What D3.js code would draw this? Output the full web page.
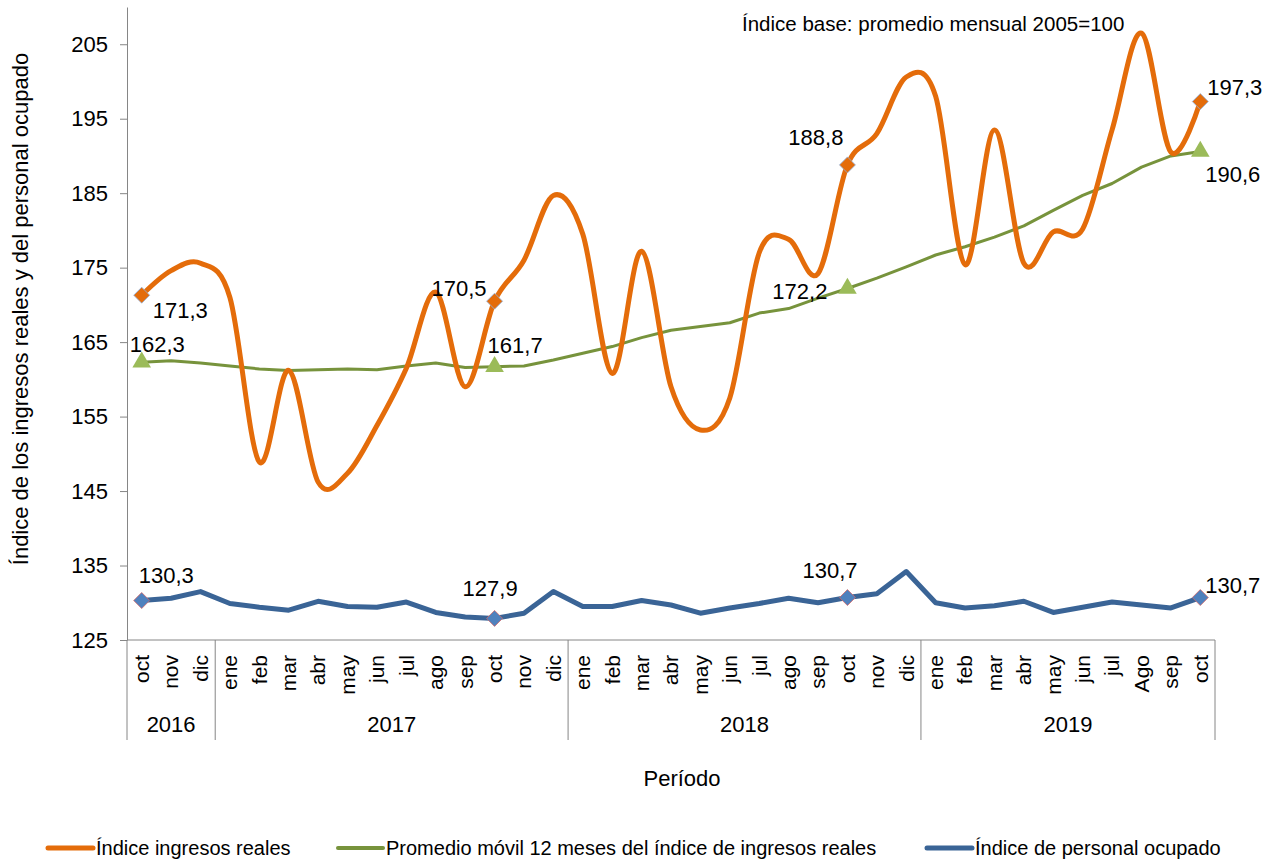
<!DOCTYPE html>
<html><head><meta charset="utf-8">
<script src="https://cdn.jsdelivr.net/npm/d3@7"></script>
<style>
body{margin:0;background:#fff;}
text{font-family:"Liberation Sans",Arial,sans-serif;fill:#000;}
</style></head>
<body>
<svg id="c" width="1270" height="860"></svg>
<script>
const months = ["oct","nov","dic","ene","feb","mar","abr","may","jun","jul","ago","sep","oct","nov","dic",
  "ene","feb","mar","abr","may","jun","jul","ago","sep","oct","nov","dic",
  "ene","feb","mar","abr","may","jun","jul","Ago","sep","oct"];
const years = ["2016","2017","2018","2019"];
const yearSpans = [3,12,12,10];
const ingresos = [171.3,174.6,175.6,171.0,148.9,161.2,146.2,147.4,153.8,161.5,171.7,159.0,170.5,
  176.0,184.7,179.5,160.8,177.2,159.0,153.2,157.5,177.0,178.8,174.2,188.8,193.0,200.6,
  198.0,175.4,193.5,175.6,179.8,180.2,193.5,206.5,190.5,197.3];
const promedio = [162.3,162.5,162.2,161.8,161.4,161.2,161.3,161.4,161.3,161.8,162.2,161.6,161.7,
  161.8,162.6,163.5,164.4,165.6,166.6,167.1,167.6,168.9,169.5,170.9,172.2,173.6,175.1,
  176.7,177.8,179.1,180.6,182.7,184.7,186.3,188.5,190.0,190.6];
const personal = [130.3,130.6,131.5,129.9,129.4,129.0,130.2,129.5,129.4,130.1,128.7,128.1,127.9,
  128.6,131.5,129.5,129.5,130.3,129.7,128.6,129.3,129.9,130.6,130.0,130.7,131.2,134.2,
  130.0,129.3,129.6,130.2,128.7,129.4,130.1,129.7,129.3,130.7];
const yTicks = [125,135,145,155,165,175,185,195,205];
const labeledIdx = [0,12,24,36];
const seriesNames = ["Índice ingresos reales","Promedio móvil 12 meses del índice de ingresos reales","Índice de personal ocupado"];
const yTitle = "Índice de los ingresos reales y del personal ocupado";
const xTitle = "Período";
const note = "Índice base: promedio mensual 2005=100";

// label offsets (layout)
const offOrange = [[11,23,"start"],[-8,-5,"end"],[-4,-20,"end"],[7,-7,"start"]];
const offGreen  = [[-12,-10,"start"],[-7,-14,"start"],[-20,11,"end"],[5,31,"start"]];
const offBlue   = [[-3,-18,"start"],[-32,-22,"start"],[-45,-20,"start"],[5,-5,"start"]];

const svg = d3.select("#c");
const L=127, R=1215, T=7, B=640;
const idx = d3.range(months.length);
const x = d3.scaleBand().domain(idx).range([L,R]).paddingInner(0).paddingOuter(0);
const cx = i => x(i)+x.bandwidth()/2;
const y = d3.scaleLinear().domain([125,210]).range([B,T]);
const axisCol="#868686";

// y axis
const ya = svg.append("g").attr("transform",`translate(${L},0)`)
  .call(d3.axisLeft(y).tickValues(yTicks).tickSize(7).tickSizeOuter(0).tickPadding(12).tickFormat(d3.format("d")));
ya.select(".domain").attr("stroke",axisCol);
ya.selectAll(".tick line").attr("stroke",axisCol);
ya.selectAll("text").style("font-size","22px").attr("fill","#000");

// x axis line
svg.append("line").attr("x1",L).attr("x2",R).attr("y1",B).attr("y2",B).attr("stroke",axisCol);
// year separators
let acc=0; const bounds=[0];
yearSpans.forEach(s=>{acc+=s;bounds.push(acc);});
bounds.forEach(b=>{
  const xx = b<months.length ? x(b) : R;
  svg.append("line").attr("x1",xx).attr("x2",xx).attr("y1",B).attr("y2",740).attr("stroke",axisCol);
});
// month labels
svg.append("g").selectAll("text").data(months).join("text")
  .attr("transform",(d,i)=>`translate(${cx(i)},655) rotate(-90)`)
  .attr("text-anchor","end").attr("dy","0.35em").style("font-size","21px").text(d=>d);
// year labels
years.forEach((yr,k)=>{
  const x0 = x(bounds[k]);
  const x1 = bounds[k+1]<months.length ? x(bounds[k+1]) : R;
  svg.append("text").attr("x",(x0+x1)/2).attr("y",732).attr("text-anchor","middle").style("font-size","22px").text(yr);
});
// axis titles
svg.append("text").attr("transform",`translate(28,309) rotate(-90)`).attr("text-anchor","middle")
  .style("font-size","22px").text(yTitle);
svg.append("text").attr("x",682).attr("y",786).attr("text-anchor","middle").style("font-size","22px").text(xTitle);
svg.append("text").attr("x",742).attr("y",31).style("font-size","20.5px").text(note);

const cOrange="#E46C0A", cGreen="#77933C", cBlue="#3A6496";
const lineSmooth = d3.line().x((d,i)=>cx(i)).y(d=>y(d)).curve(d3.curveCatmullRom.alpha(0));
const lineLin = d3.line().x((d,i)=>cx(i)).y(d=>y(d));

svg.append("path").datum(personal).attr("d",lineLin).attr("fill","none").attr("stroke",cBlue).attr("stroke-width",5).attr("stroke-linejoin","round");
svg.append("path").datum(promedio).attr("d",lineLin).attr("fill","none").attr("stroke",cGreen).attr("stroke-width",3).attr("stroke-linejoin","round");
svg.append("path").datum(ingresos).attr("d",lineSmooth).attr("fill","none").attr("stroke",cOrange).attr("stroke-width",5).attr("stroke-linejoin","round");

// markers
const diamond = d3.symbol().type(d3.symbolDiamond2 || d3.symbolDiamond).size(170);
function diamondPath(s){ return `M0,${-s}L${s},0L0,${s}L${-s},0Z`; }
labeledIdx.forEach((i,k)=>{
  svg.append("path").attr("d",diamondPath(8)).attr("transform",`translate(${cx(i)},${y(personal[i])})`)
    .attr("fill","#4F81BD").attr("stroke","#D46A6A").attr("stroke-width",0.8);
  svg.append("path").attr("d",d3.symbol().type(d3.symbolTriangle).size(150)()).attr("transform",`translate(${cx(i)},${y(promedio[i])})`)
    .attr("fill","#9BBB59");
  svg.append("path").attr("d",diamondPath(8)).attr("transform",`translate(${cx(i)},${y(ingresos[i])})`)
    .attr("fill",cOrange).attr("stroke","#8EB4E3").attr("stroke-width",0.8);
});
const fmt = v => d3.format(".1f")(v).replace(".",",");
function labels(arr, offs){
  labeledIdx.forEach((i,k)=>{
    const o=offs[k];
    svg.append("text").attr("x",cx(i)+o[0]).attr("y",y(arr[i])+o[1]).attr("text-anchor",o[2])
      .style("font-size","22px").text(fmt(arr[i]));
  });
}
labels(ingresos,offOrange); labels(promedio,offGreen); labels(personal,offBlue);

// legend
const legY=848;
const legItems=[{c:cOrange,w:5,x:48},{c:cGreen,w:4,x:338},{c:cBlue,w:5,x:927}];
legItems.forEach((it,k)=>{
  svg.append("line").attr("x1",it.x).attr("x2",it.x+45).attr("y1",legY).attr("y2",legY)
    .attr("stroke",it.c).attr("stroke-width",it.w).attr("stroke-linecap","round");
  svg.append("text").attr("x",it.x+48).attr("y",855).style("font-size","20px").text(seriesNames[k]);
});
</script>
</body></html>
